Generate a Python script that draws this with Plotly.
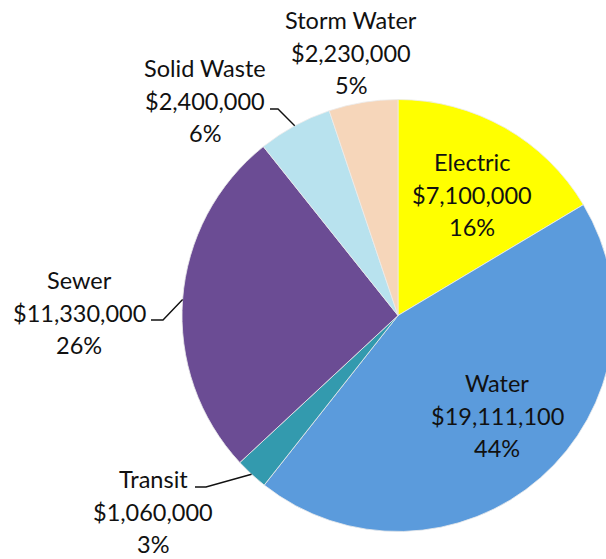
import math
import plotly.graph_objects as go

# ---- data ----
categories = ["Electric", "Water", "Transit", "Sewer", "Solid Waste", "Storm Water"]
amounts = [7100000, 19111100, 1060000, 11330000, 2400000, 2230000]
amount_labels = ["$7,100,000", "$19,111,100", "$1,060,000", "$11,330,000", "$2,400,000", "$2,230,000"]
pct_labels = ["16%", "44%", "3%", "26%", "6%", "5%"]

# ---- styles / layout ----
colors = ["#FFFF00", "#5B9BDC", "#339AAE", "#6B4C94", "#B8E2EE", "#F6D6BA"]
W, H = 620, 559
CX, CY, R = 398, 315.5, 216
FONT = "Lato"
FS = 23.5
LINE_GAP = 32.5

# label block: (center x, y of first line) in pixels
label_pos = {
    "Electric": (472, 162),
    "Water": (497, 383),
    "Transit": (153, 479),
    "Sewer": (79, 280),
    "Solid Waste": (205, 68),
    "Storm Water": (351, 20),
}
# leader lines: (x start, x knee, y)
leaders = {
    "Sewer": (151, 163, 320),
    "Transit": (195, 206, 487),
    "Solid Waste": (270, 278, 109),
}


def px(x):
    return x / W


def py(y):
    return 1 - y / H


fig = go.Figure(
    go.Pie(
        labels=categories,
        values=amounts,
        sort=False,
        direction="clockwise",
        rotation=0,
        hole=0,
        marker=dict(colors=colors, line=dict(color="rgba(235,235,235,0.8)", width=1)),
        textinfo="none",
        hoverinfo="label+value+percent",
        showlegend=False,
        domain=dict(x=[px(CX - R), px(CX + R)], y=[py(CY + R), py(CY - R)]),
    )
)

annotations = []
for name, amt, pct in zip(categories, amount_labels, pct_labels):
    x0, y0 = label_pos[name]
    for i, t in enumerate([name, amt, pct]):
        annotations.append(
            dict(
                x=px(x0), y=py(y0 + i * LINE_GAP), xref="paper", yref="paper",
                text=t, showarrow=False, xanchor="center", yanchor="middle",
                borderpad=0,
                font=dict(family=FONT, size=FS, color="#111111"),
            )
        )

# leader lines, ending on the slice edge at its middle angle
total = sum(amounts)
cum = 0.0
shapes = []
for name, v in zip(categories, amounts):
    mid = (cum + v / 2) / total * 2 * math.pi
    cum += v
    if name in leaders:
        xs, xk, yl = leaders[name]
        ex = CX + R * math.sin(mid)
        ey = CY - R * math.cos(mid)
        shapes.append(dict(type="path", xref="paper", yref="paper",
                           path=f"M {px(xs)},{py(yl)} L {px(xk)},{py(yl)} L {px(ex)},{py(ey)}",
                           line=dict(color="#111111", width=1.4)))

fig.update_layout(
    width=W, height=H,
    margin=dict(l=0, r=0, t=0, b=0),
    paper_bgcolor="white", plot_bgcolor="white",
    annotations=annotations, shapes=shapes,
)

fig.write_html(
    "out.html",
    config={"displayModeBar": False},
    post_script="document.body.style.margin='0';document.body.style.overflow='hidden';document.documentElement.style.overflow='hidden';",
)
